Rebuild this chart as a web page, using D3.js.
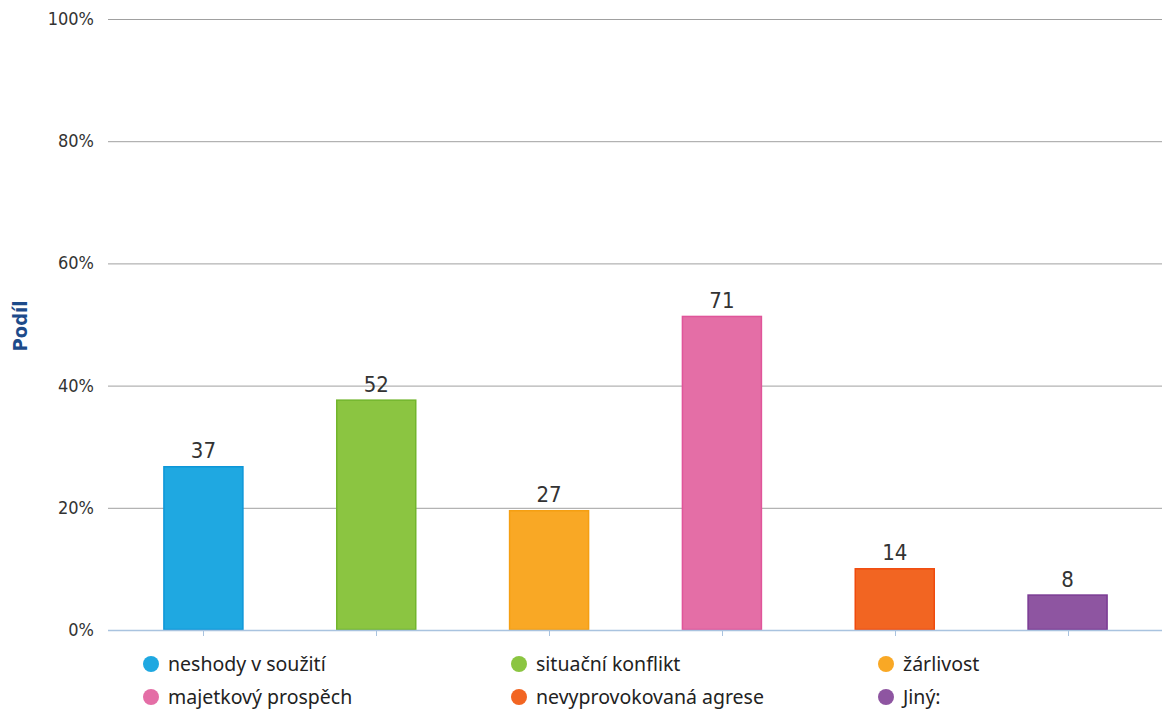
<!DOCTYPE html>
<html>
<head>
<meta charset="utf-8">
<script src="https://cdn.jsdelivr.net/npm/d3@7"></script>
<style>
html,body{margin:0;padding:0;background:#fff;}
svg{display:block;}
</style>
</head>
<body>
<svg id="chart" width="1162" height="713"></svg>
<script>
const categories = ["neshody v soužití","situační konflikt","žárlivost","majetkový prospěch","nevyprovokovaná agrese","Jiný:"];
const counts = [37, 52, 27, 71, 14, 8];
const shares = [26.8, 37.7, 19.6, 51.4, 10.1, 5.8];
const yTicks = [0, 20, 40, 60, 80, 100];
const fills = ["#1fa8e1","#8bc541","#f9a825","#e46ea6","#f26522","#8e55a1"];
const strokes = ["#0d96d8","#72b52c","#f59f12","#e0559a","#f04a0c","#7a3a93"];

const svg = d3.select("#chart");
const x = d3.scaleBand().domain(categories).range([117, 1154]).padding(0);
const y = d3.scaleLinear().domain([0, 100]).range([630, 19]);
const barW = 80;
const condensed = "'DejaVu Sans Condensed', 'DejaVu Sans', sans-serif";

// gridlines
svg.append("g").selectAll("line").data(yTicks.filter(d => d > 0)).join("line")
  .attr("x1", 108).attr("x2", 1162)
  .attr("y1", d => y(d) + 0.5).attr("y2", d => y(d) + 0.5)
  .attr("stroke", "#a0a0a0").attr("stroke-width", 1);

// y tick labels
svg.append("g").selectAll("text").data(yTicks).join("text")
  .attr("x", 94).attr("y", d => y(d) + 6)
  .attr("text-anchor", "end")
  .attr("font-family", condensed)
  .attr("font-stretch", "condensed")
  .attr("font-size", 18).attr("fill", "#333")
  .text(d => d + "%");

// y title
svg.append("text")
  .attr("transform", "translate(27,326) rotate(-90)")
  .attr("text-anchor", "middle")
  .attr("font-family", condensed)
  .attr("font-stretch", "condensed")
  .attr("font-weight", "bold")
  .attr("font-size", 20).attr("fill", "#1d4b8a")
  .text("Podíl");

// bars
svg.append("g").selectAll("rect").data(categories).join("rect")
  .attr("x", (d) => x(d) + x.bandwidth() / 2 - barW / 2 + 0.5)
  .attr("y", (d, i) => y(shares[i]) + 0.5)
  .attr("width", barW - 1)
  .attr("height", (d, i) => y(0) - y(shares[i]) - 1)
  .attr("fill", (d, i) => fills[i])
  .attr("stroke", (d, i) => strokes[i])
  .attr("stroke-width", 1.5);

// baseline
svg.append("line")
  .attr("x1", 108).attr("x2", 1162)
  .attr("y1", y(0) + 0.5).attr("y2", y(0) + 0.5)
  .attr("stroke", "#a9c3df").attr("stroke-width", 1.5);

// x ticks
svg.append("g").selectAll("line").data(categories).join("line")
  .attr("x1", d => Math.round(x(d) + x.bandwidth() / 2) + 0.5)
  .attr("x2", d => Math.round(x(d) + x.bandwidth() / 2) + 0.5)
  .attr("y1", y(0)).attr("y2", y(0) + 6)
  .attr("stroke", "#a9c3df").attr("stroke-width", 1);

// value labels
svg.append("g").selectAll("text").data(categories).join("text")
  .attr("x", d => x(d) + x.bandwidth() / 2)
  .attr("y", (d, i) => y(shares[i]) - 8)
  .attr("text-anchor", "middle")
  .attr("font-family", condensed)
  .attr("font-stretch", "condensed")
  .attr("font-size", 22).attr("fill", "#333")
  .text((d, i) => counts[i]);

// legend
const legX = [151, 519, 886];
const legY = [664, 697];
const leg = svg.append("g").selectAll("g").data(categories).join("g")
  .attr("transform", (d, i) => `translate(${legX[i % 3]},${legY[Math.floor(i / 3)]})`);
leg.append("circle").attr("r", 8).attr("cx", 0).attr("cy", 0)
  .attr("fill", (d, i) => fills[i]);
leg.append("text").attr("x", 17).attr("y", 7)
  .attr("font-family", "'Noto Sans', 'Open Sans', sans-serif")
  .attr("font-size", 19.5).attr("fill", "#222")
  .text(d => d);
</script>
</body>
</html>
